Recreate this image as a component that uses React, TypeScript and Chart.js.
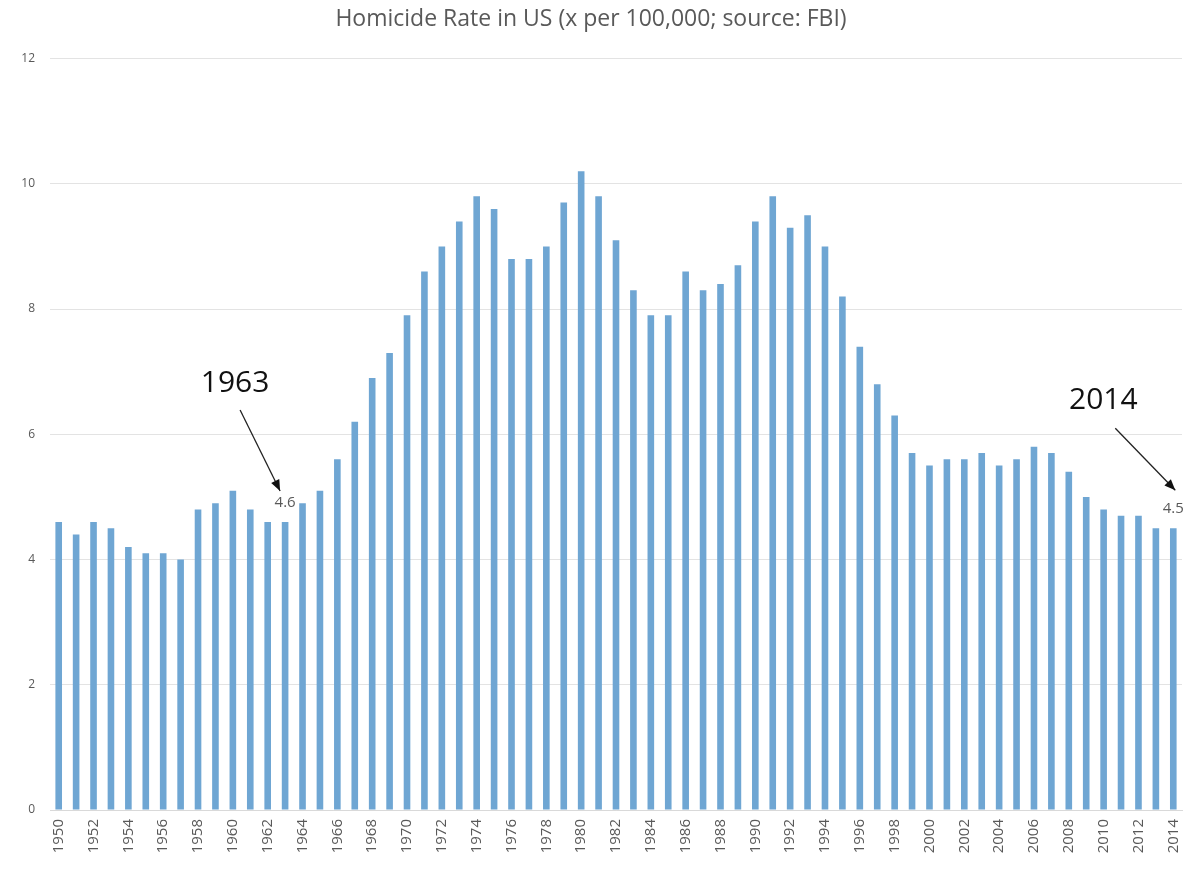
import React, { useEffect, useRef } from "react";
import { Chart, registerables } from "chart.js";

Chart.register(...registerables);

const years: string[] = [
  "1950","1951","1952","1953","1954","1955","1956","1957","1958","1959",
  "1960","1961","1962","1963","1964","1965","1966","1967","1968","1969",
  "1970","1971","1972","1973","1974","1975","1976","1977","1978","1979",
  "1980","1981","1982","1983","1984","1985","1986","1987","1988","1989",
  "1990","1991","1992","1993","1994","1995","1996","1997","1998","1999",
  "2000","2001","2002","2003","2004","2005","2006","2007","2008","2009",
  "2010","2011","2012","2013","2014",
];

const rates: number[] = [
  4.6, 4.4, 4.6, 4.5, 4.2, 4.1, 4.1, 4.0, 4.8, 4.9,
  5.1, 4.8, 4.6, 4.6, 4.9, 5.1, 5.6, 6.2, 6.9, 7.3,
  7.9, 8.6, 9.0, 9.4, 9.8, 9.6, 8.8, 8.8, 9.0, 9.7,
  10.2, 9.8, 9.1, 8.3, 7.9, 7.9, 8.6, 8.3, 8.4, 8.7,
  9.4, 9.8, 9.3, 9.5, 9.0, 8.2, 7.4, 6.8, 6.3, 5.7,
  5.5, 5.6, 5.6, 5.7, 5.5, 5.6, 5.8, 5.7, 5.4, 5.0,
  4.8, 4.7, 4.7, 4.5, 4.5,
];

const yTicks: number[] = [0, 2, 4, 6, 8, 10, 12];

const titleText = "Homicide Rate in US (x per 100,000; source: FBI)";

const callouts = [
  { year: "1963", text: "1963", label: "4.6", tx: -50, ty: -139, ax0: -45, ay0: -112, ax1: -5, ay1: -31 },
  { year: "2014", text: "2014", label: "4.5", tx: -70, ty: -128, ax0: -58, ay0: -100, ax1: 2, ay1: -38 },
];

const calloutPlugin = {
  id: "callouts",
  afterDatasetsDraw(chart: any) {
    const meta = chart.getDatasetMeta(0);
    const ctx = chart.ctx;
    ctx.save();
    callouts.forEach((c) => {
      const idx = years.indexOf(c.year);
      const bar = meta.data[idx];
      if (!bar) return;
      const bx = bar.x;
      const by = bar.y;
      ctx.fillStyle = "#595959";
      ctx.font = "15px 'Open Sans', sans-serif";
      ctx.textAlign = "center";
      ctx.textBaseline = "middle";
      ctx.fillText(c.label, bx, by - 19);
      ctx.fillStyle = "#111111";
      ctx.font = "30px 'Open Sans', sans-serif";
      ctx.fillText(c.text, bx + c.tx, by + c.ty);
      const x0 = bx + c.ax0, y0 = by + c.ay0, x1 = bx + c.ax1, y1 = by + c.ay1;
      ctx.strokeStyle = "#222222";
      ctx.lineWidth = 1.3;
      ctx.beginPath();
      ctx.moveTo(x0, y0);
      ctx.lineTo(x1, y1);
      ctx.stroke();
      const ang = Math.atan2(y1 - y0, x1 - x0);
      const hl = 11, hw = 4.5;
      ctx.fillStyle = "#111111";
      ctx.beginPath();
      ctx.moveTo(x1, y1);
      ctx.lineTo(x1 - hl * Math.cos(ang) + hw * Math.sin(ang), y1 - hl * Math.sin(ang) - hw * Math.cos(ang));
      ctx.lineTo(x1 - hl * Math.cos(ang) - hw * Math.sin(ang), y1 - hl * Math.sin(ang) + hw * Math.cos(ang));
      ctx.closePath();
      ctx.fill();
    });
    ctx.restore();
  },
};

export default function App() {
  const ref = useRef<HTMLCanvasElement | null>(null);
  useEffect(() => {
    if (!ref.current) return;
    const chart = new Chart(ref.current, {
      type: "bar",
      data: {
        labels: years,
        datasets: [
          {
            data: rates,
            backgroundColor: "#6fa6d3",
            barPercentage: 0.38,
            categoryPercentage: 1,
          },
        ],
      },
      options: {
        animation: false,
        responsive: false,
        maintainAspectRatio: false,
        layout: { padding: { left: 0, right: 8, top: 0, bottom: 0 } },
        plugins: {
          legend: { display: false },
          tooltip: { enabled: false },
          title: {
            display: true,
            text: titleText,
            color: "#595959",
            font: { family: "'Open Sans', sans-serif", size: 23, weight: "normal" },
            padding: { top: 6, bottom: 25 },
          },
        },
        scales: {
          x: {
            grid: { display: false, drawTicks: false },
            border: { display: true, color: "#d9d9d9" },
            ticks: {
              autoSkip: false,
              minRotation: 90,
              maxRotation: 90,
              color: "#595959",
              padding: 9,
              font: { family: "'Open Sans', sans-serif", size: 15 },
              callback: (_v: any, i: number) => (Number(years[i]) % 2 === 0 ? years[i] : ""),
            },
            afterFit: (s: any) => {
              s.height = 60;
              s.paddingLeft = 0;
              s.paddingRight = 0;
            },
          },
          y: {
            min: 0,
            max: 12,
            afterBuildTicks: (s: any) => {
              s.ticks = yTicks.map((v) => ({ value: v }));
            },
            grid: { color: "#e3e3e3", drawTicks: false },
            border: { display: false },
            ticks: {
              color: "#595959",
              padding: 15,
              font: { family: "'Open Sans', sans-serif", size: 12 },
            },
            afterFit: (s: any) => {
              s.width = 50;
            },
          },
        },
      },
      plugins: [calloutPlugin],
    });
    return () => chart.destroy();
  }, []);
  return (
    <div style={{ position: "fixed", left: 0, top: 0, width: 1190, height: 870, background: "#fff" }}>
      <canvas ref={ref} width={1190} height={870} style={{ width: 1190, height: 870 }} />
    </div>
  );
}
